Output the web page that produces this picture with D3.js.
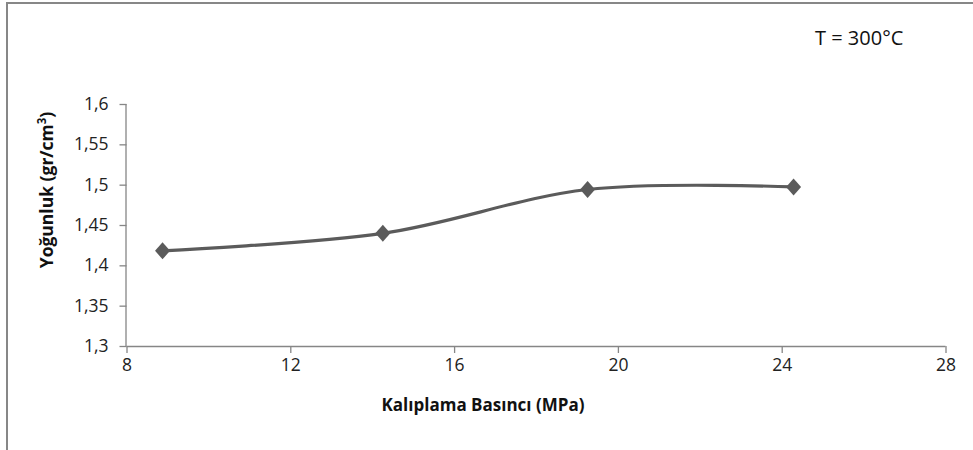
<!DOCTYPE html>
<html>
<head>
<meta charset="utf-8">
<script src="https://cdn.jsdelivr.net/npm/d3@7"></script>
<style>
  body { margin: 0; background: #fff; }
  svg { display: block; font-family: "Open Sans", sans-serif; }
</style>
</head>
<body>
<svg id="chart"></svg>
<script>
var width = 973, height = 450;
var margin = {top: 104, right: 27, bottom: 104, left: 126.5};

// data
var pressure = [8.88, 14.26, 19.26, 24.29];
var density = [1.418, 1.4397, 1.494, 1.4972];
var xTicks = [8, 12, 16, 20, 24, 28];
var yTicks = [1.3, 1.35, 1.4, 1.45, 1.5, 1.55, 1.6];

var svg = d3.select("#chart")
    .attr("width", width)
    .attr("height", height);

// frame (only top and left edges visible)
svg.append("path")
  .attr("d", "M7,450V3H973")
  .attr("fill", "none")
  .attr("stroke", "#878787")
  .attr("stroke-width", 2);

var x = d3.scaleLinear().domain([8, 28]).range([margin.left, 945.5]);
var y = d3.scaleLinear().domain([1.3, 1.6]).range([346, 104]);

var fmt = function (d) { return String(+d.toFixed(2)).replace(".", ","); };

var xAxis = svg.append("g")
  .attr("transform", "translate(0," + y(1.3) + ")")
  .call(d3.axisBottom(x).tickValues(xTicks).tickSize(7).tickPadding(6).tickFormat(fmt));

var yAxis = svg.append("g")
  .attr("transform", "translate(" + x(8) + ",0)")
  .call(d3.axisLeft(y).tickValues(yTicks).tickSize(7).tickPadding(11).tickFormat(fmt));

[xAxis, yAxis].forEach(function (a) {
  a.select(".domain").attr("stroke", "#868686").attr("stroke-width", 1.3);
  a.selectAll(".tick line").attr("stroke", "#868686").attr("stroke-width", 1.3);
  a.selectAll(".tick text")
    .attr("fill", "#222")
    .style("font-family", "'Open Sans', sans-serif")
    .style("font-size", "17.5px");
});
// Excel style: no outer tick caps on the domain line
xAxis.select(".domain").attr("d", "M" + x(8) + ",0.5H" + x(28));
yAxis.select(".domain").attr("d", "M-0.5," + y(1.6) + "V" + y(1.3));

var pts = pressure.map(function (p, i) { return [x(p), y(density[i])]; });

svg.append("path")
  .attr("d", d3.line().curve(d3.curveCardinal.tension(0))(pts))
  .attr("fill", "none")
  .attr("stroke", "#5b5b5b")
  .attr("stroke-width", 3.2);

svg.selectAll(".marker")
  .data(pts)
  .enter().append("path")
  .attr("class", "marker")
  .attr("transform", function (d) { return "translate(" + d[0] + "," + d[1] + ")"; })
  .attr("d", "M0,-8.5L7.5,0L0,8.5L-7.5,0Z")
  .attr("fill", "#5b5b5b");

// axis titles
svg.append("text")
  .attr("x", 483)
  .attr("y", 411)
  .attr("text-anchor", "middle")
  .attr("font-weight", "bold")
  .attr("font-size", "17px")
  .attr("fill", "#111")
  .text("Kalıplama Basıncı (MPa)");

var yt = svg.append("text")
  .attr("transform", "translate(53,190) rotate(-90)")
  .attr("text-anchor", "middle")
  .attr("font-weight", "bold")
  .attr("font-size", "17.5px")
  .attr("fill", "#111");
yt.append("tspan").text("Yoğunluk (gr/cm");
yt.append("tspan").attr("font-size", "11.5px").attr("dy", "-7").text("3");
yt.append("tspan").attr("dy", "7").text(")");

svg.append("text")
  .attr("x", 815)
  .attr("y", 45)
  .attr("font-size", "20px")
  .attr("fill", "#111")
  .text("T = 300°C");
</script>
</body>
</html>
